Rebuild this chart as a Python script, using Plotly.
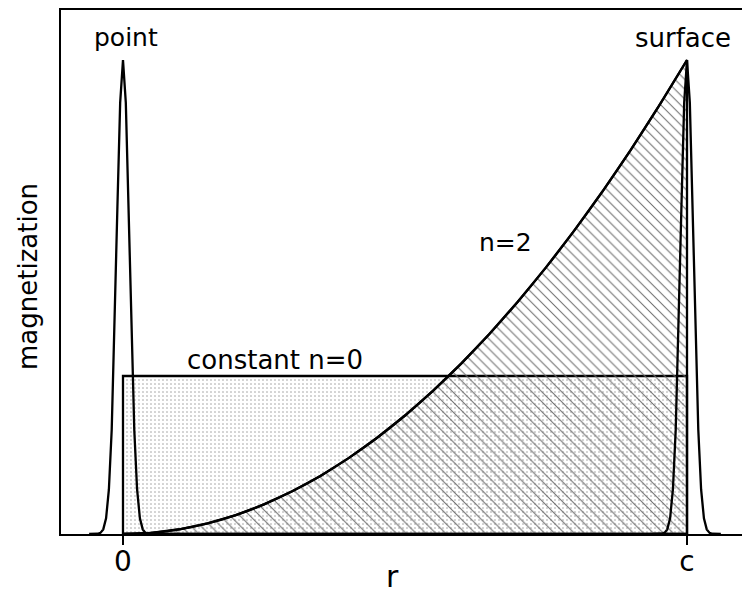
import plotly.graph_objects as go

# Profiles of the three magnetization distributions along r (r = c is 1)
r_vals = [0.0, 0.05, 0.1, 0.15, 0.2, 0.25, 0.3, 0.35, 0.4, 0.45, 0.5,
          0.55, 0.6, 0.65, 0.7, 0.75, 0.8, 0.85, 0.9, 0.95, 1.0]
n2_vals = [0.0, 0.0025, 0.01, 0.0225, 0.04, 0.0625, 0.09, 0.1225, 0.16, 0.2025, 0.25,
           0.3025, 0.36, 0.4225, 0.49, 0.5625, 0.64, 0.7225, 0.81, 0.9025, 1.0]

const_level = 1.0 / 3.0

# narrow peak profile: offset from its centre and relative height
peak_offsets = [-0.06, -0.045, -0.04, -0.035, -0.03, -0.025, -0.02, -0.015, -0.01, -0.005, 0.0,
                0.005, 0.01, 0.015, 0.02, 0.025, 0.03, 0.035, 0.04, 0.045, 0.06]
peak_heights = [0.0, 0.0005, 0.0024, 0.0098, 0.033, 0.094, 0.22, 0.427, 0.685, 0.91, 1.0,
                0.91, 0.685, 0.427, 0.22, 0.094, 0.033, 0.0098, 0.0024, 0.0005, 0.0]
point_centre = 0.0
surface_centre = 1.0

tick_vals = [0.0, 1.0]
tick_text = ["0", "c"]

FONT = "DejaVu Sans"
BLACK = "black"
LW = 2.3

fig = go.Figure()

# constant n=0: dotted rectangle
fig.add_trace(go.Scatter(
    x=[0.0, 0.0, 1.0, 1.0, 0.0],
    y=[0.0, const_level, const_level, 0.0, 0.0],
    mode="lines", fill="toself",
    fillcolor="rgba(0,0,0,0)",
    fillpattern=dict(shape=".", size=4, solidity=0.12, fgcolor="#9a9a9a",
                     bgcolor="rgba(0,0,0,0)", fillmode="replace"),
    line=dict(color=BLACK, width=LW),
    hoverinfo="skip", showlegend=False,
))

# n=2: hatched region under r^2, closed at r = c
fig.add_trace(go.Scatter(
    x=r_vals + [1.0, 0.0],
    y=n2_vals + [0.0, 0.0],
    mode="lines", fill="toself",
    fillcolor="rgba(0,0,0,0)",
    fillpattern=dict(shape="\\", size=7, solidity=0.15, fgcolor="#6e6e6e",
                     bgcolor="rgba(0,0,0,0)", fillmode="replace"),
    line=dict(color=BLACK, width=LW),
    hoverinfo="skip", showlegend=False,
))
# smooth outline of the n=2 curve
fig.add_trace(go.Scatter(
    x=r_vals, y=n2_vals, mode="lines",
    line=dict(color=BLACK, width=LW, shape="spline", smoothing=0.8),
    hoverinfo="skip", showlegend=False,
))

# point and surface peaks
for centre in (point_centre, surface_centre):
    fig.add_trace(go.Scatter(
        x=[centre + d for d in peak_offsets],
        y=peak_heights,
        mode="lines",
        line=dict(color=BLACK, width=LW),
        hoverinfo="skip", showlegend=False,
    ))

labels = [
    ("point", 0.005, 1.047, 25),
    ("surface", 0.993, 1.047, 26),
    ("n=2", 0.679, 0.615, 25),
    ("constant n=0", 0.2695, 0.368, 26),
]
for text, x, y, size in labels:
    fig.add_annotation(x=x, y=y, xref="x", yref="y", text=text, showarrow=False,
                       font=dict(family=FONT, size=size, color=BLACK),
                       xanchor="center", yanchor="middle")

fig.add_annotation(x=-0.0485, y=0.4924, xref="paper", yref="paper",
                   text="magnetization", textangle=-90, showarrow=False,
                   font=dict(family=FONT, size=26, color=BLACK),
                   xanchor="center", yanchor="middle")
fig.add_annotation(x=0.4787, y=-0.1185, xref="x", yref="paper",
                   text="r", showarrow=False,
                   font=dict(family=FONT, size=30, color=BLACK),
                   xanchor="center", yanchor="bottom")

fig.update_xaxes(
    range=[-0.1099, 1.0975],
    showline=True, linecolor=BLACK, linewidth=2, mirror=True,
    tickmode="array", tickvals=tick_vals, ticktext=tick_text,
    ticks="outside", ticklen=9, tickwidth=2, tickcolor=BLACK,
    tickfont=dict(family=FONT, size=28, color=BLACK),
    ticklabelstandoff=-8,
    showgrid=False, zeroline=False,
)
fig.update_yaxes(
    range=[0, 1.1055],
    showline=True, linecolor=BLACK, linewidth=2, mirror=False,
    showticklabels=False, ticks="",
    showgrid=False, zeroline=False,
)

fig.update_layout(
    width=742, height=597,
    margin=dict(l=61, r=0, t=10, b=63),
    paper_bgcolor="white", plot_bgcolor="white",
    font=dict(family=FONT, color=BLACK),
)

fig.write_html("out.html")
